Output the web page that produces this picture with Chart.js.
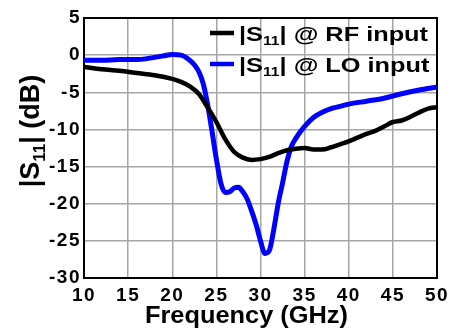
<!DOCTYPE html>
<html>
<head>
<meta charset="utf-8">
<script src="https://cdn.jsdelivr.net/npm/chart.js@4.4.0/dist/chart.umd.min.js"></script>
<style>
  html, body { margin: 0; padding: 0; background: #fff; }
</style>
</head>
<body>
<canvas id="s11Chart" width="455" height="331"></canvas>
<script>
// Frequence (GHz) et |S11| (dB)
const freqRF = [10, 12, 14, 16, 18, 20, 21, 22, 23, 24, 25, 26, 27, 28, 29, 30, 31, 32, 33, 34, 35, 36, 37, 38, 39, 40, 41, 42, 43, 44, 45, 46, 47, 48, 49, 50];
const s11RF = [-1.6, -1.9, -2.1, -2.4, -2.7, -3.2, -3.6, -4.2, -5.2, -7.0, -9.0, -11.3, -13.0, -13.8, -14.1, -14.0, -13.7, -13.2, -12.8, -12.6, -12.5, -12.7, -12.7, -12.4, -12.0, -11.6, -11.1, -10.6, -10.2, -9.6, -9.0, -8.8, -8.3, -7.7, -7.2, -7.0];

const freqLO = [10, 12, 14, 16, 17, 18, 19, 20, 21, 22, 22.5, 23, 23.5, 24, 24.5, 25, 25.5, 26, 26.5, 27, 27.5, 28, 28.5, 29, 29.5, 30, 30.5, 31, 31.5, 32, 32.5, 33, 33.5, 34, 35, 36, 37, 38, 39, 40, 42, 44, 46, 48, 50];
const s11LO = [-0.7, -0.7, -0.6, -0.6, -0.5, -0.3, -0.1, 0.1, 0.0, -0.7, -1.3, -2.2, -3.8, -6.6, -10.2, -14.0, -17.2, -18.5, -18.4, -17.9, -17.8, -18.4, -19.4, -21.0, -22.8, -25.0, -26.7, -26.3, -23.5, -20.0, -17.2, -14.3, -12.3, -11.2, -9.6, -8.4, -7.7, -7.2, -6.9, -6.6, -6.2, -5.8, -5.2, -4.7, -4.3];

const xTicks = [10, 15, 20, 25, 30, 35, 40, 45, 50];
const yTicks = [5, 0, -5, -10, -15, -20, -25, -30];

const FONT = "'Liberation Sans', Arial, sans-serif";

// Texte avec indice "11", étiré horizontalement par sx
function drawSub(ctx, parts, x, y, size, sx) {
    ctx.save();
    ctx.translate(x, y);
    ctx.scale(sx, 1);
    let cx = 0;
    parts.forEach(p => {
        if (p.sub) {
            ctx.font = 'bold ' + Math.round(size * 0.62) + 'px ' + FONT;
            ctx.fillText(p.t, cx, size * 0.22);
        } else {
            ctx.font = 'bold ' + size + 'px ' + FONT;
            ctx.fillText(p.t, cx, 0);
        }
        cx += ctx.measureText(p.t).width;
    });
    ctx.restore();
}
function widthSub(ctx, parts, size) {
    let w = 0;
    parts.forEach(p => {
        ctx.font = 'bold ' + (p.sub ? Math.round(size * 0.62) : size) + 'px ' + FONT;
        w += ctx.measureText(p.t).width;
    });
    return w;
}

const decorPlugin = {
    id: 'decor',
    beforeInit(chart) { chart.ctx.letterSpacing = '1.5px'; },
    beforeDraw(chart) { chart.ctx.letterSpacing = '1.5px'; },
    beforeDatasetsDraw(chart) {
        const { ctx, chartArea: a } = chart;
        ctx.save();
        ctx.strokeStyle = '#000';
        ctx.lineWidth = 2;
        ctx.strokeRect(a.left, a.top, a.right - a.left, a.bottom - a.top);
        ctx.restore();
    },
    afterDraw(chart) {
        const { ctx } = chart;
        ctx.save();
        ctx.letterSpacing = '0px';
        ctx.fillStyle = '#000';
        ctx.textBaseline = 'alphabetic';
        ctx.textAlign = 'left';

        // légende
        const entries = [
            { color: '#000000', parts: [{ t: '|S' }, { t: '11', sub: true }, { t: '| @ RF input' }], y: 33 },
            { color: '#0000ff', parts: [{ t: '|S' }, { t: '11', sub: true }, { t: '| @ LO input' }], y: 64 }
        ];
        const w0 = widthSub(ctx, entries[0].parts, 21);
        const sxLeg = 189 / w0;
        entries.forEach(e => {
            ctx.strokeStyle = e.color;
            ctx.lineWidth = 4.5;
            ctx.beginPath();
            ctx.moveTo(210, e.y);
            ctx.lineTo(234, e.y);
            ctx.stroke();
            drawSub(ctx, e.parts, 239, e.y + 7.5, 21, sxLeg);
        });

        // titre axe X
        const xParts = [{ t: 'Frequency (GHz)' }];
        const wx = widthSub(ctx, xParts, 23);
        drawSub(ctx, xParts, 145, 323, 23, 203 / wx);

        // titre axe Y
        const yParts = [{ t: '|S' }, { t: '11', sub: true }, { t: '| (dB)' }];
        ctx.translate(39, 131);
        ctx.rotate(-Math.PI / 2);
        const w = widthSub(ctx, yParts, 27);
        drawSub(ctx, yParts, -w / 2, 0, 27, 1);
        ctx.restore();
    }
};

const ctx = document.getElementById('s11Chart').getContext('2d');
const s11Chart = new Chart(ctx, {
    type: 'line',
    data: {
        datasets: [{
            label: '|S11| @ RF input',
            data: freqRF.map((f, i) => ({ x: f, y: s11RF[i] })),
            borderColor: '#000000',
            borderWidth: 4.5,
            pointRadius: 0,
            cubicInterpolationMode: 'monotone'
        }, {
            label: '|S11| @ LO input',
            data: freqLO.map((f, i) => ({ x: f, y: s11LO[i] })),
            borderColor: '#0000ff',
            borderWidth: 5,
            pointRadius: 0,
            cubicInterpolationMode: 'monotone'
        }]
    },
    options: {
        responsive: false,
        animation: false,
        devicePixelRatio: 1,
        layout: { padding: { top: 18, right: 18, left: 0, bottom: 0 } },
        plugins: {
            legend: { display: false },
            tooltip: { enabled: false }
        },
        scales: {
            x: {
                type: 'linear',
                min: 10,
                max: 50,
                afterFit(scale) { scale.height = 53; },
                afterBuildTicks(scale) { scale.ticks = xTicks.map(v => ({ value: v })); },
                grid: { color: '#a6a6a6', lineWidth: 1.5, drawTicks: false },
                border: { display: false },
                ticks: {
                    color: '#000',
                    font: { family: FONT, size: 19, weight: 'bold' },
                    padding: 6,
                    maxRotation: 0
                }
            },
            y: {
                min: -30,
                max: 5,
                afterFit(scale) { scale.width = 84; },
                afterBuildTicks(scale) { scale.ticks = yTicks.map(v => ({ value: v })); },
                grid: { color: '#a6a6a6', lineWidth: 1.5, drawTicks: false },
                border: { display: false },
                ticks: {
                    color: '#000',
                    font: { family: FONT, size: 19, weight: 'bold' },
                    padding: 3
                }
            }
        }
    },
    plugins: [decorPlugin]
});
</script>
</body>
</html>
